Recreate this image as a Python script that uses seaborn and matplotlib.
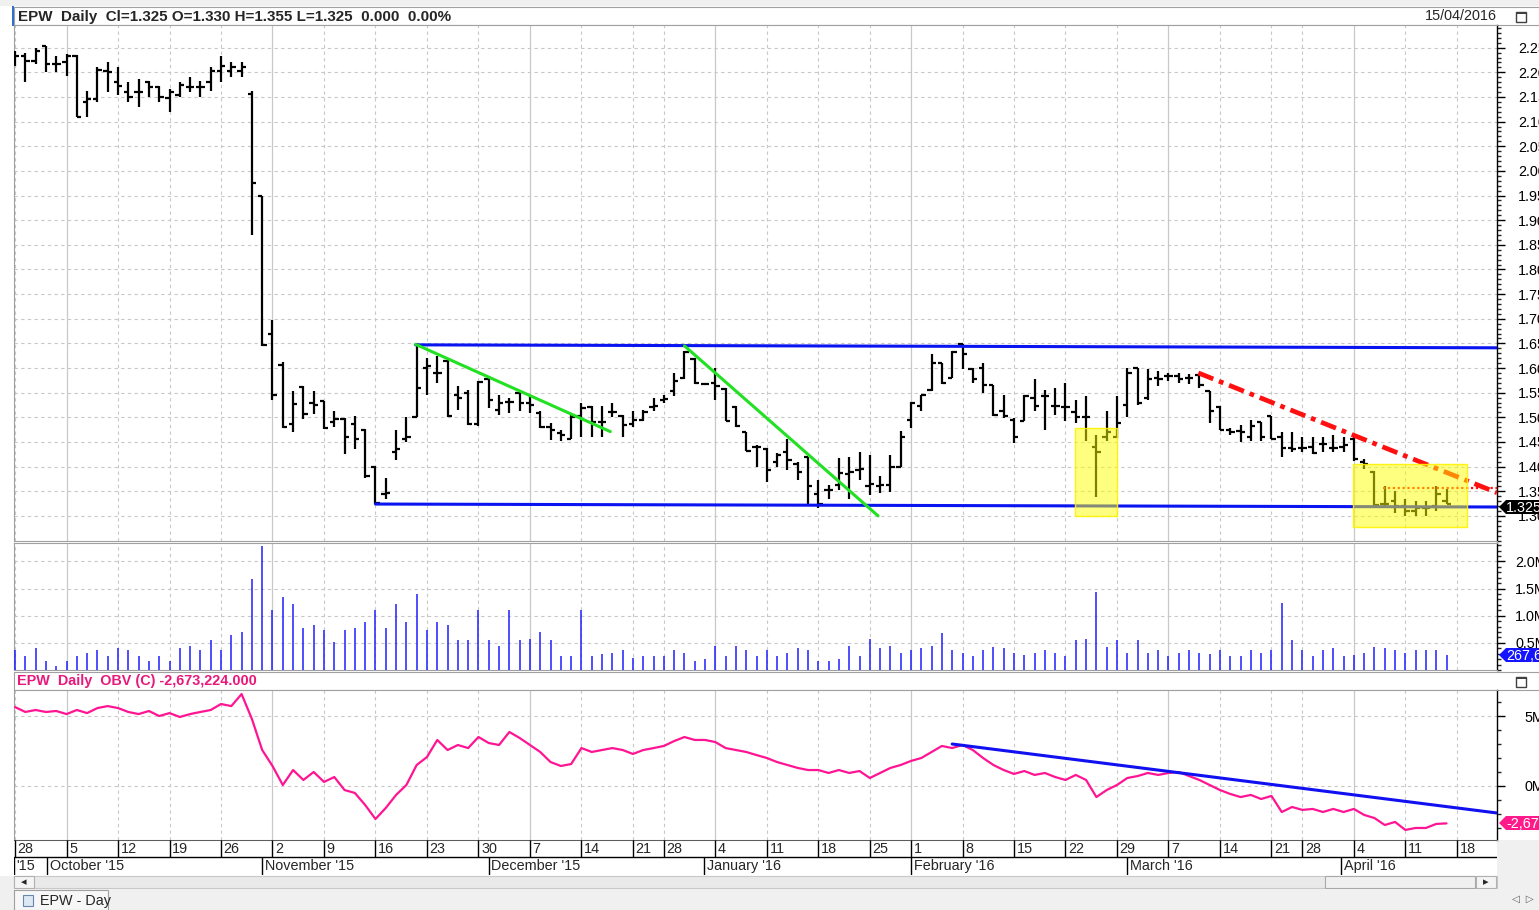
import numpy as np
import pandas as pd
import matplotlib
matplotlib.use("Agg")
import matplotlib.pyplot as plt
import seaborn as sns
from matplotlib.patches import Rectangle, Polygon
from matplotlib.ticker import MultipleLocator, FixedLocator

sns.set_style("white")
plt.rcParams['font.family'] = ['Liberation Sans', 'DejaVu Sans']

# ---------------- data (one bar per trading day, index 0 = 28 Sep 2015) ----------------
opens = [2.233, 2.233, 2.223, 2.253, 2.217, 2.220, 2.233, 2.140, 2.145, 2.203,
         2.180, 2.160, 2.160, 2.180, 2.170, 2.147, 2.153, 2.170, 2.170, 2.180,
         2.203, 2.203, 2.203, 2.155, 1.950, 1.670, 1.606, 1.487, 1.562, 1.530,
         1.533, 1.490, 1.497, 1.487, 1.475, 1.400, 1.345, 1.430, 1.455, 1.500,
         1.600, 1.590, 1.615, 1.545, 1.550, 1.486, 1.578, 1.515, 1.532, 1.550,
         1.530, 1.509, 1.480, 1.468, 1.456, 1.502, 1.520, 1.490, 1.510, 1.503,
         1.487, 1.494, 1.521, 1.535, 1.553, 1.580, 1.619, 1.568, 1.570, 1.558,
         1.521, 1.470, 1.440, 1.435, 1.410, 1.430, 1.405, 1.420, 1.345, 1.352,
         1.363, 1.385, 1.393, 1.360, 1.360, 1.363, 1.400, 1.495, 1.522, 1.555,
         1.610, 1.580, 1.648, 1.598, 1.600, 1.566, 1.512, 1.495, 1.493, 1.540,
         1.543, 1.522, 1.520, 1.510, 1.500, 1.440, 1.460, 1.460, 1.525, 1.600,
         1.540, 1.580, 1.583, 1.583, 1.580, 1.585, 1.553, 1.520, 1.475, 1.472,
         1.460, 1.490, 1.503, 1.460, 1.437, 1.438, 1.440, 1.445, 1.437, 1.440,
         1.455, 1.410, 1.390, 1.325, 1.330, 1.320, 1.310, 1.315, 1.320, 1.330]
highs = [2.243, 2.240, 2.250, 2.253, 2.233, 2.237, 2.235, 2.163, 2.210, 2.220,
         2.210, 2.180, 2.187, 2.183, 2.173, 2.167, 2.180, 2.190, 2.183, 2.210,
         2.233, 2.220, 2.220, 2.163, 1.950, 1.697, 1.613, 1.554, 1.564, 1.554,
         1.534, 1.513, 1.498, 1.503, 1.477, 1.401, 1.376, 1.475, 1.500, 1.650,
         1.621, 1.624, 1.617, 1.563, 1.556, 1.573, 1.583, 1.546, 1.539, 1.553,
         1.546, 1.512, 1.488, 1.474, 1.509, 1.529, 1.522, 1.522, 1.529, 1.505,
         1.512, 1.515, 1.539, 1.546, 1.590, 1.634, 1.621, 1.570, 1.600, 1.560,
         1.522, 1.471, 1.444, 1.437, 1.428, 1.455, 1.410, 1.420, 1.373, 1.363,
         1.417, 1.420, 1.430, 1.423, 1.380, 1.424, 1.472, 1.532, 1.546, 1.628,
         1.610, 1.635, 1.649, 1.600, 1.610, 1.566, 1.546, 1.498, 1.546, 1.577,
         1.556, 1.560, 1.570, 1.536, 1.543, 1.464, 1.512, 1.543, 1.600, 1.600,
         1.597, 1.594, 1.590, 1.590, 1.588, 1.588, 1.553, 1.522, 1.478, 1.485,
         1.495, 1.490, 1.503, 1.471, 1.471, 1.460, 1.460, 1.460, 1.465, 1.460,
         1.463, 1.415, 1.392, 1.360, 1.350, 1.335, 1.330, 1.330, 1.360, 1.355]
lows = [2.213, 2.180, 2.217, 2.200, 2.200, 2.193, 2.110, 2.110, 2.140, 2.160,
        2.153, 2.140, 2.130, 2.150, 2.140, 2.120, 2.150, 2.160, 2.150, 2.163,
        2.180, 2.190, 2.190, 1.870, 1.645, 1.535, 1.478, 1.470, 1.497, 1.507,
        1.477, 1.480, 1.426, 1.436, 1.376, 1.324, 1.335, 1.414, 1.450, 1.500,
        1.546, 1.570, 1.500, 1.515, 1.485, 1.483, 1.519, 1.505, 1.509, 1.512,
        1.509, 1.478, 1.454, 1.451, 1.455, 1.460, 1.460, 1.460, 1.500, 1.460,
        1.481, 1.492, 1.512, 1.529, 1.543, 1.577, 1.568, 1.566, 1.536, 1.492,
        1.481, 1.431, 1.400, 1.369, 1.400, 1.393, 1.373, 1.325, 1.315, 1.335,
        1.353, 1.335, 1.373, 1.342, 1.346, 1.349, 1.400, 1.478, 1.512, 1.553,
        1.568, 1.580, 1.597, 1.570, 1.550, 1.502, 1.498, 1.447, 1.492, 1.512,
        1.475, 1.505, 1.492, 1.488, 1.451, 1.339, 1.451, 1.458, 1.500, 1.525,
        1.536, 1.563, 1.573, 1.570, 1.568, 1.560, 1.488, 1.475, 1.465, 1.450,
        1.452, 1.452, 1.455, 1.420, 1.430, 1.430, 1.425, 1.430, 1.430, 1.430,
        1.412, 1.395, 1.320, 1.320, 1.305, 1.300, 1.300, 1.300, 1.310, 1.325]
closes = [2.233, 2.223, 2.243, 2.217, 2.217, 2.233, 2.110, 2.145, 2.205, 2.200,
          2.173, 2.150, 2.160, 2.170, 2.150, 2.160, 2.175, 2.170, 2.170, 2.203,
          2.213, 2.210, 2.210, 1.975, 1.647, 1.545, 1.480, 1.527, 1.507, 1.525,
          1.478, 1.497, 1.461, 1.456, 1.380, 1.326, 1.346, 1.435, 1.460, 1.560,
          1.605, 1.590, 1.502, 1.540, 1.487, 1.572, 1.536, 1.530, 1.532, 1.530,
          1.525, 1.480, 1.475, 1.465, 1.500, 1.518, 1.490, 1.490, 1.510, 1.485,
          1.494, 1.510, 1.522, 1.537, 1.573, 1.633, 1.570, 1.568, 1.563, 1.493,
          1.482, 1.432, 1.440, 1.393, 1.423, 1.414, 1.390, 1.360, 1.325, 1.352,
          1.386, 1.390, 1.395, 1.365, 1.363, 1.400, 1.460, 1.530, 1.545, 1.610,
          1.570, 1.633, 1.628, 1.578, 1.565, 1.505, 1.502, 1.461, 1.543, 1.522,
          1.543, 1.522, 1.520, 1.500, 1.500, 1.430, 1.470, 1.488, 1.590, 1.530,
          1.578, 1.578, 1.583, 1.577, 1.580, 1.565, 1.512, 1.475, 1.470, 1.470,
          1.483, 1.460, 1.455, 1.437, 1.435, 1.437, 1.427, 1.445, 1.437, 1.443,
          1.415, 1.405, 1.322, 1.325, 1.320, 1.310, 1.315, 1.315, 1.345, 1.325]
volume_m = [0.36, 0.26, 0.40, 0.17, 0.08, 0.17, 0.26, 0.32, 0.36, 0.26,
            0.40, 0.36, 0.26, 0.17, 0.26, 0.17, 0.40, 0.45, 0.36, 0.55,
            0.36, 0.64, 0.70, 1.68, 2.28, 1.11, 1.34, 1.21, 0.77, 0.83,
            0.74, 0.51, 0.74, 0.77, 0.89, 1.11, 0.77, 1.21, 0.89, 1.40,
            0.74, 0.89, 0.83, 0.55, 0.55, 1.11, 0.55, 0.45, 1.11, 0.55,
            0.58, 0.70, 0.55, 0.26, 0.26, 1.11, 0.26, 0.30, 0.32, 0.36,
            0.23, 0.26, 0.26, 0.26, 0.36, 0.32, 0.17, 0.21, 0.45, 0.26,
            0.45, 0.36, 0.26, 0.36, 0.26, 0.32, 0.40, 0.36, 0.17, 0.17,
            0.21, 0.45, 0.26, 0.58, 0.40, 0.45, 0.32, 0.36, 0.40, 0.45,
            0.68, 0.36, 0.32, 0.26, 0.36, 0.43, 0.40, 0.32, 0.28, 0.32,
            0.36, 0.32, 0.26, 0.55, 0.58, 1.43, 0.43, 0.55, 0.32, 0.55,
            0.32, 0.36, 0.26, 0.32, 0.36, 0.32, 0.30, 0.36, 0.26, 0.26,
            0.36, 0.32, 0.36, 1.23, 0.55, 0.36, 0.26, 0.36, 0.40, 0.26,
            0.28, 0.32, 0.43, 0.40, 0.36, 0.32, 0.36, 0.36, 0.36, 0.2676]
obv_m = [5.64, 5.29, 5.43, 5.29, 5.36, 5.14, 5.43, 5.21, 5.57, 5.71,
         5.57, 5.29, 5.14, 5.36, 5.00, 5.21, 4.93, 5.14, 5.29, 5.43,
         5.86, 5.71, 6.57, 4.79, 2.57, 1.43, 0.07, 1.14, 0.43, 1.00,
         0.29, 0.64, -0.29, -0.50, -1.36, -2.36, -1.57, -0.64, 0.07, 1.50,
         2.07, 3.29, 2.57, 2.93, 2.71, 3.50, 3.07, 2.93, 3.86, 3.43,
         2.93, 2.43, 1.71, 1.43, 1.57, 2.71, 2.43, 2.57, 2.71, 2.57,
         2.29, 2.57, 2.71, 2.86, 3.21, 3.50, 3.29, 3.29, 3.14, 2.71,
         2.57, 2.43, 2.21, 2.00, 1.71, 1.50, 1.29, 1.14, 1.14, 0.93,
         1.14, 0.93, 1.07, 0.57, 0.93, 1.29, 1.50, 1.79, 2.00, 2.43,
         2.86, 2.71, 2.93, 2.57, 2.00, 1.50, 1.14, 0.86, 1.07, 0.79,
         0.93, 0.64, 0.43, 0.79, 0.43, -0.79, -0.29, 0.07, 0.57, 0.71,
         0.93, 0.79, 0.93, 1.00, 0.71, 0.43, 0.07, -0.29, -0.57, -0.79,
         -0.64, -0.93, -0.71, -1.86, -1.50, -1.71, -1.64, -1.86, -1.64, -1.86,
         -1.64, -2.07, -2.29, -2.79, -2.57, -3.14, -3.00, -3.00, -2.71, -2.673224]

week_tick_idx = [0, 5, 10, 15, 20, 25, 30, 35, 40, 45, 50, 55, 60, 63, 68, 73, 78, 83,
                 87, 92, 97, 102, 107, 112, 117, 122, 125, 130, 135, 140]
week_tick_labels = ['28', '5', '12', '19', '26', '2', '9', '16', '23', '30', '7', '14', '21',
                    '28', '4', '11', '18', '25', '1', '8', '15', '22', '29', '7', '14', '21',
                    '28', '4', '11', '18']
month_start_grid_idx = [5, 25, 50, 68, 87, 112, 130]
month_sep_idx = [-0.1, 3.1, 24.0, 46.0, 66.9, 87.0, 108.0, 128.8]
month_labels = ["'15", "October '15", "November '15", "December '15", "January '16",
                "February '16", "March '16", "April '16"]

price_ticks = [1.30, 1.35, 1.40, 1.45, 1.50, 1.55, 1.60, 1.65, 1.70, 1.75, 1.80,
               1.85, 1.90, 1.95, 2.00, 2.05, 2.10, 2.15, 2.20, 2.25]
volume_ticks_m = [0.5, 1.0, 1.5, 2.0]
obv_ticks_m = [0, 5]

# drawn study lines: (x indices, values)
channel_top_x, channel_top_y = [38.9, 143.9], [1.647, 1.641]
channel_bot_x, channel_bot_y = [35.0, 143.9], [1.324, 1.318]
green1_x, green1_y = [38.9, 57.8], [1.648, 1.471]
green2_x, green2_y = [65.0, 83.8], [1.645, 1.300]
red_trend_x, red_trend_y = [114.9, 143.9], [1.590, 1.347]
red_level_x, red_level_y = [132.8, 143.9], [1.357, 1.357]
obv_trend_x, obv_trend_y = [91.0, 143.9], [3.0, -1.93]
highlight_x0 = [102.9, 129.9]
highlight_x1 = [107.0, 141.0]
highlight_y0 = [1.300, 1.278]
highlight_y1 = [1.478, 1.406]

# ---------------- figure ----------------
W, H = 1539, 910
fig = plt.figure(figsize=(W / 100, H / 100), dpi=100, facecolor='#F0F0F0')

def px_axes(x0, y0, x1, y1):
    return fig.add_axes([x0 / W, 1 - y1 / H, (x1 - x0) / W, (y1 - y0) / H])

def fig_rect(x0, y0, x1, y1, fc, ec='none', lw=0.8, z=-5):
    fig.patches.append(Rectangle((x0 / W, 1 - y1 / H), (x1 - x0) / W, (y1 - y0) / H,
                                 transform=fig.transFigure, facecolor=fc, edgecolor=ec,
                                 lw=lw, zorder=z))

def fig_text(x, y, s, **kw):
    fig.text(x / W, 1 - y / H, s, **kw)

FS = 10.4  # general UI font size

# white chart area (behind the axes)
fig_rect(0, 6, 1539, 876, 'white', z=-10)
fig_rect(1497, 840, 1539, 876, '#F0F0F0', z=-9)
fig_rect(12, 6, 14, 26, '#3070D0', z=-8)
# top header strip
fig_rect(14, 7, 1539, 25, 'white', ec='#A0A0A0')
fig_text(18, 16.5, f"EPW  Daily  Cl={closes[-1]:.3f} O={opens[-1]:.3f} H={highs[-1]:.3f} L={lows[-1]:.3f}  0.000  0.00%",
         fontsize=10.9, fontweight='bold', va='center', ha='left')
fig_text(1425, 16.5, "15/04/2016", fontsize=FS, va='center', ha='left')
# OBV header strip
fig_rect(14, 672, 1539, 690, 'white', ec='#A0A0A0')
fig_text(17, 681.5, f"EPW  Daily  OBV (C) {obv_m[-1]*1e6:,.3f}", fontsize=FS,
         fontweight='bold', color='#E8187C', va='center', ha='left')
for yy in (16.5, 681.5):
    fig_rect(1516, yy - 5, 1526, yy + 5, 'white', ec='#404040', lw=1.0, z=3)
    fig_rect(1516, yy - 5, 1526, yy - 3, '#404040', z=3)

X0, X1 = -0.1, 143.9
idx = np.arange(len(closes))
GRID = '#C8C8C8'

def style_axes(ax, pad):
    ax.set_xlim(X0, X1)
    ax.set_facecolor('white')
    for s in ('left', 'top', 'bottom'):
        ax.spines[s].set_color('#A0A0A0')
        ax.spines[s].set_linewidth(0.8)
    ax.spines['right'].set_color('black')
    ax.spines['right'].set_linewidth(1.0)
    ax.yaxis.tick_right()
    ax.tick_params(axis='y', which='major', direction='out', length=6, width=1.0,
                   labelsize=FS, pad=pad, colors='black')
    ax.tick_params(axis='y', which='minor', direction='out', length=3, width=1.0)
    ax.set_xticks([])
    for w in week_tick_idx:
        if w in month_start_grid_idx:
            ax.axvline(w, color=GRID, lw=0.9, zorder=0)
        else:
            ax.axvline(w, color=GRID, lw=0.8, ls=(0, (3, 3)), zorder=0)

# ---------------- price panel ----------------
ax_p = px_axes(14, 25, 1497, 541)
style_axes(ax_p, pad=9.0)
ax_p.set_ylim(1.249, 2.296)
ax_p.yaxis.set_major_locator(FixedLocator(price_ticks))
ax_p.set_yticklabels([f"{t:.2f}" for t in price_ticks])
ax_p.yaxis.set_minor_locator(MultipleLocator(0.01))
for t in price_ticks:
    ax_p.axhline(t, color=GRID, lw=0.8, ls=(0, (3, 3)), zorder=0)

# OHLC bars
ax_p.vlines(idx, lows, highs, color='black', lw=1.6, zorder=3)
ax_p.hlines(opens, idx - 0.42, idx, color='black', lw=1.6, zorder=3)
ax_p.hlines(closes, idx, idx + 0.42, color='black', lw=1.6, zorder=3)

# study lines (seaborn line plots)
for xs, ys, col, lw in [(channel_top_x, channel_top_y, '#0A14F0', 2.2),
                        (channel_bot_x, channel_bot_y, '#0A14F0', 2.2),
                        (green1_x, green1_y, '#22E022', 2.2),
                        (green2_x, green2_y, '#22E022', 2.2)]:
    sns.lineplot(x=xs, y=ys, ax=ax_p, color=col, lw=lw, zorder=4)
ax_p.plot(red_trend_x, red_trend_y, color='#FF1010', lw=3.4, ls=(0, (3.4, 1.3, 1.0, 1.3)),
          solid_capstyle='butt', dash_capstyle='butt', zorder=4)
ax_p.plot(red_level_x, red_level_y, color='#FF1010', lw=1.6, ls=(0, (1, 1.2)), zorder=4)
for x0, x1, y0, y1 in zip(highlight_x0, highlight_x1, highlight_y0, highlight_y1):
    ax_p.add_patch(Rectangle((x0, y0), x1 - x0, y1 - y0, facecolor=(1, 1, 0, 0.5),
                             edgecolor=(1, 0.95, 0, 0.9), lw=1.0, zorder=5))
ax_p.set_ylabel('')
ax_p.set_xlabel('')

# ---------------- volume panel ----------------
ax_v = px_axes(14, 543, 1497, 670)
style_axes(ax_v, pad=7.0)
ax_v.set_ylim(0, 2.34)
ax_v.yaxis.set_major_locator(FixedLocator(volume_ticks_m))
ax_v.set_yticklabels([f"{t:.1f}M" for t in volume_ticks_m])
ax_v.yaxis.set_minor_locator(MultipleLocator(0.1))
for t in volume_ticks_m:
    ax_v.axhline(t, color=GRID, lw=0.8, ls=(0, (3, 3)), zorder=0)
ax_v.vlines(idx, 0, volume_m, color='#1E1EFF', lw=1.1, zorder=3)

# ---------------- OBV panel ----------------
ax_o = px_axes(14, 690, 1497, 840)
style_axes(ax_o, pad=14.0)
ax_o.set_ylim(-3.86, 6.86)
ax_o.yaxis.set_major_locator(FixedLocator(obv_ticks_m))
ax_o.set_yticklabels([f"{t:d}M" for t in obv_ticks_m])
ax_o.yaxis.set_minor_locator(MultipleLocator(1))
for t in obv_ticks_m:
    ax_o.axhline(t, color=GRID, lw=0.8, ls=(0, (3, 3)), zorder=0)
obv_df = pd.DataFrame({'i': idx, 'obv': obv_m})
sns.lineplot(data=obv_df, x='i', y='obv', ax=ax_o, color='#FF1493', lw=1.6, zorder=3)
sns.lineplot(x=obv_trend_x, y=obv_trend_y, ax=ax_o, color='#1010F0', lw=2.2, zorder=4)
ax_o.set_xlabel('')
ax_o.set_ylabel('')

# ---------------- date strip ----------------
ax_d = px_axes(14, 840, 1497, 875)
ax_d.set_xlim(X0, X1)
ax_d.set_ylim(35, 0)
ax_d.axis('off')
ax_d.axhline(0.3, color='#505050', lw=1.2)
ax_d.axhline(17, color='black', lw=1.0)
for w, lab in zip(week_tick_idx, week_tick_labels):
    ax_d.vlines(w, 0, 17, color='black', lw=1.0)
    ax_d.text(w + 0.25, 8.8, lab, fontsize=FS, va='center', ha='left')
for m, lab in zip(month_sep_idx, month_labels):
    ax_d.vlines(m, 17, 35, color='black', lw=1.0)
    ax_d.text(m + 0.25, 26, lab, fontsize=FS, va='center', ha='left')

# ---------------- right-side value markers ----------------
def value_marker(y, text, color, x_tip=1499):
    pts = [(x_tip, y), (x_tip + 7, y - 7), (1545, y - 7), (1545, y + 7), (x_tip + 7, y + 7)]
    fig.patches.append(Polygon([(px / W, 1 - py / H) for px, py in pts], closed=True,
                               transform=fig.transFigure, facecolor=color, edgecolor='none', zorder=6))
    fig_text(x_tip + 7, y + 0.5, text, fontsize=FS, color='white', va='center', ha='left', zorder=7)

value_marker(507, f"{closes[-1]:.3f}", 'black')
value_marker(655, f"{int(round(volume_m[-1]*1e6)):,}", '#1414FF')
value_marker(823, f"{obv_m[-1]*1e6:,.0f}", '#FF1A8C')

# ---------------- scrollbar and tab bar ----------------
fig_rect(14, 876, 1497, 888, '#E9E9E9', ec='#C8C8C8')
fig_rect(14, 876, 34, 888, '#F4F4F4', ec='#B0B0B0')
fig_text(24, 882, '\u25C2', fontsize=8, ha='center', va='center')
fig_rect(1325, 876, 1475, 888, '#F0F0F0', ec='#A8A8A8')
fig_rect(1476, 876, 1496, 888, '#F4F4F4', ec='#B0B0B0')
fig_text(1486, 882, '\u25B8', fontsize=8, ha='center', va='center')
fig_rect(0, 889, 1539, 910, '#F0F0F0')
fig_rect(14, 890, 108, 910, '#F7F7F7', ec='#A0A0A0')
fig_rect(23, 895, 33, 906, '#DDE8F5', ec='#6688AA', lw=0.8)
fig_text(40, 901, 'EPW - Day', fontsize=FS, va='center', ha='left')
fig_text(1512, 899, '\u25C1  \u25B7', fontsize=7.5, va='center', ha='left', color='#606060')

fig.savefig('out.png', dpi=100, facecolor=fig.get_facecolor())
